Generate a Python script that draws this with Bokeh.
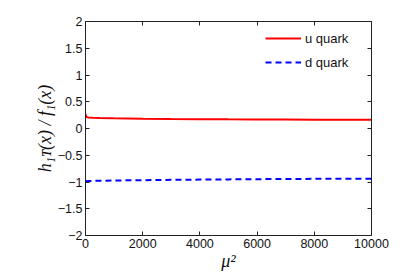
from bokeh.plotting import figure
from bokeh.models import LinearAxis, Legend, LegendItem, FixedTicker, Range1d
from bokeh.embed import file_html
from bokeh.resources import INLINE

mu2 = [0, 30, 100, 250, 500, 1000, 2000, 3000, 4000, 5000, 6000, 7000, 8000, 9000, 10000]
u_quark = [0.27, 0.215, 0.205, 0.2, 0.195, 0.19, 0.183, 0.178, 0.174, 0.171, 0.169, 0.167, 0.165, 0.164, 0.163]
d_quark = [-0.99, -0.985, -0.982, -0.979, -0.976, -0.972, -0.966, -0.96, -0.955, -0.951, -0.947, -0.944, -0.941, -0.939, -0.937]
x_ticks = [0, 2000, 4000, 6000, 8000, 10000]
y_ticks = [-2, -1.5, -1, -0.5, 0, 0.5, 1, 1.5, 2]

p = figure(frame_width=286, frame_height=214, output_backend="svg", toolbar_location=None,
           x_range=Range1d(0, 10000), y_range=Range1d(-2, 2),
           min_border_left=85, min_border_right=38, min_border_top=21, min_border_bottom=30)
p.grid.visible = False
p.outline_line_color = "#222222"
p.background_fill_color = "white"
p.border_fill_color = "white"

r1 = p.line(mu2, u_quark, line_color="#ff0000", line_width=2)
r2 = p.line(mu2, d_quark, line_color="#0000ff", line_width=2, line_dash="6 4")

def fmt(v):
    s = ("%g" % v)
    return s.replace("-", "\u2212")

for ax in p.xaxis:
    ax.ticker = FixedTicker(ticks=x_ticks)
    ax.major_label_overrides = {t: fmt(t) for t in x_ticks}
    ax.axis_label = "\u03bc\u00b2"
for ax in p.yaxis:
    ax.ticker = FixedTicker(ticks=y_ticks)
    ax.major_label_overrides = {t: fmt(t) for t in y_ticks}
    ax.axis_label = "h\u2081\u1d1b(x) / f\u2081(x)"

for ax in list(p.xaxis) + list(p.yaxis):
    ax.major_tick_in = 4
    ax.major_tick_out = 0
    ax.minor_tick_line_color = None
    ax.axis_line_color = "#222222"
    ax.major_tick_line_color = "#222222"
    ax.major_label_text_font = "Liberation Sans"
    ax.major_label_text_font_size = "12.5px"
    ax.major_label_text_color = "#111111"
    ax.axis_label_text_font = "Liberation Serif"
    ax.axis_label_text_font_style = "italic"
    ax.axis_label_text_font_size = "18px"
    ax.axis_label_text_color = "#111111"

p.yaxis[0].major_label_standoff = 3
p.xaxis[0].major_label_standoff = 3
p.yaxis[0].axis_label_standoff = 0
p.xaxis[0].axis_label_standoff = 0

for side, ticks in (("right", y_ticks), ("above", x_ticks)):
    ax = LinearAxis(ticker=FixedTicker(ticks=ticks), major_label_text_font_size="0px",
                    major_tick_in=4, major_tick_out=0, minor_tick_line_color=None,
                    axis_line_color="#222222", major_tick_line_color="#222222")
    ax.major_label_text_color = None
    p.add_layout(ax, side)

legend = Legend(items=[LegendItem(label="u quark", renderers=[r1]),
                       LegendItem(label="d quark", renderers=[r2])],
                location=(180, 163), border_line_color=None, background_fill_alpha=0,
                glyph_width=36, glyph_height=20, label_height=20, spacing=4,
                padding=5, label_standoff=4, label_text_font="Liberation Sans",
                label_text_font_size="13px", label_text_color="#111111")
p.add_layout(legend)

open("out.html", "w").write(file_html(p, INLINE))
